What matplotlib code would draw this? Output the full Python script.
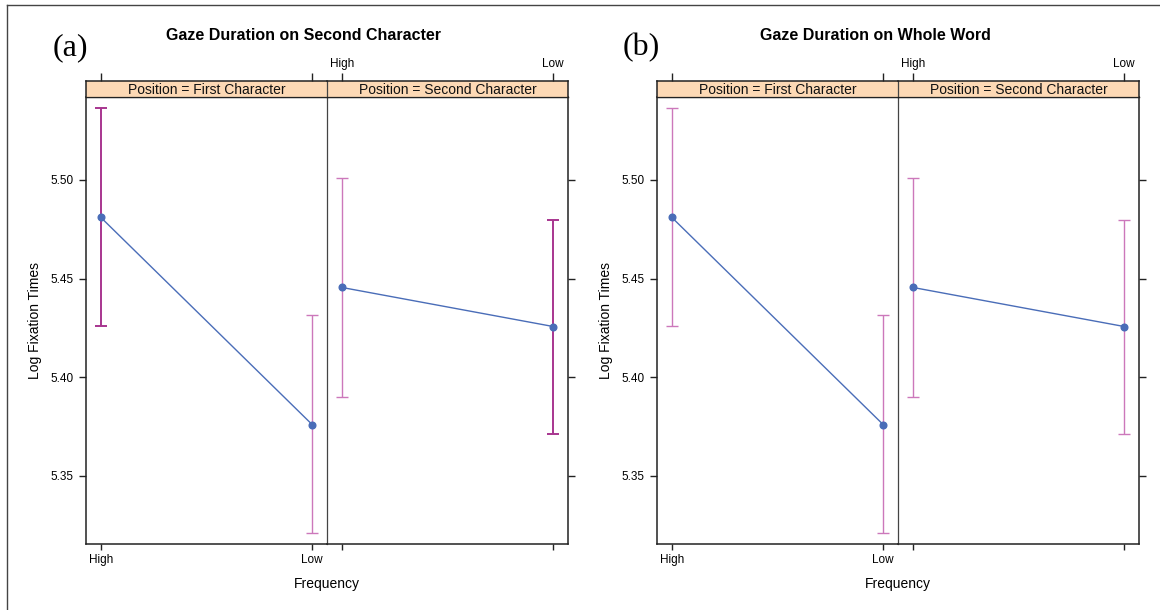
import matplotlib
matplotlib.use("Agg")
import matplotlib.pyplot as plt
from matplotlib.lines import Line2D

# ---------------- data ----------------
frequency = ["High", "Low"]
positions = ["First Character", "Second Character"]

# (a) Gaze Duration on Second Character
a_first_mean = [5.481, 5.376]
a_first_lo = [5.426, 5.321]
a_first_hi = [5.5365, 5.4315]
a_second_mean = [5.4455, 5.4257]
a_second_lo = [5.390, 5.3712]
a_second_hi = [5.501, 5.4797]

# (b) Gaze Duration on Whole Word
b_first_mean = [5.481, 5.376]
b_first_lo = [5.426, 5.321]
b_first_hi = [5.5365, 5.4315]
b_second_mean = [5.4455, 5.4257]
b_second_lo = [5.390, 5.3712]
b_second_hi = [5.501, 5.4797]

yticks = [5.35, 5.40, 5.45, 5.50]
ytick_labels = ["5.35", "5.40", "5.45", "5.50"]

# ---------------- style ----------------
plt.rcParams["font.family"] = ["Liberation Sans", "DejaVu Sans"]
W, H = 1160, 610
fig = plt.figure(figsize=(W / 100, H / 100), dpi=100)

LINE = "#4a6db8"
ERR_DARK = "#a8358f"
ERR_LIGHT = "#cc78bb"
STRIP = "#fdd9b5"
FRAME = "#222222"
DIV = "#444444"


def ax_px(x0, y0, x1, y1):
    return fig.add_axes([x0 / W, 1 - y1 / H, (x1 - x0) / W, (y1 - y0) / H])


def fx(x):
    return x / W


def fy(y):
    return 1 - y / H


xs = [1, 2]
XLIM = (0.93, 2.07)
YLIM = (5.3155, 5.542)


def draw_group(dx, title, tag, data, dark_flags):
    p1 = ax_px(86 + dx, 97, 327 + dx, 544)
    p2 = ax_px(327 + dx, 97, 568 + dx, 544)
    s1 = ax_px(86 + dx, 81, 327 + dx, 97)
    s2 = ax_px(327 + dx, 81, 568 + dx, 97)

    for i, (ax, (m, lo, hi)) in enumerate(zip([p1, p2], data)):
        for j in range(2):
            col = ERR_DARK if dark_flags[i][j] else ERR_LIGHT
            lw = 1.4 if dark_flags[i][j] else 1.0
            ax.errorbar([xs[j]], [m[j]], yerr=[[m[j] - lo[j]], [hi[j] - m[j]]],
                        fmt="none", ecolor=col, elinewidth=lw, capsize=4.3,
                        capthick=lw, zorder=2)
        ax.plot(xs, m, color=LINE, lw=1.0, marker="o", markersize=4.8,
                markerfacecolor=LINE, markeredgecolor=LINE, zorder=3)
        ax.set_xlim(*XLIM)
        ax.set_ylim(*YLIM)
        ax.set_xticks(xs)
        ax.set_yticks(yticks)
        ax.patch.set_alpha(0)
        for sp in ax.spines.values():
            sp.set_color(FRAME)
            sp.set_linewidth(1.1)

    # panel 1 : left + bottom labels
    p1.set_xticklabels(frequency, fontsize=8.5)
    p1.set_yticklabels(ytick_labels, fontsize=8.5)
    p1.tick_params(axis="both", direction="out", length=4.5, width=1.0,
                   color=FRAME, pad=3)
    p1.tick_params(axis="y", length=5.0, pad=4)
    p1.spines["right"].set_visible(False)
    p1.spines["top"].set_linewidth(0.9)
    p1.set_ylabel("Log Fixation Times", fontsize=10, labelpad=6)

    # panel 2 : bottom ticks (no labels), right ticks (no labels)
    p2.spines["left"].set_color(DIV)
    p2.spines["left"].set_linewidth(0.9)
    p2.spines["top"].set_linewidth(0.9)
    p2.tick_params(axis="x", direction="out", length=4.5, width=1.0,
                   color=FRAME, labelbottom=False)
    p2.tick_params(axis="y", direction="out", length=5.0, width=1.0,
                   color=FRAME, left=False, labelleft=False,
                   right=True, labelright=False)

    # strips
    for k, (s, pos) in enumerate(zip([s1, s2], positions)):
        s.set_facecolor(STRIP)
        s.set_xlim(*XLIM)
        s.set_ylim(0, 1)
        s.set_yticks([])
        s.set_xticks(xs)
        s.tick_params(axis="x", bottom=False, labelbottom=False, top=True,
                      direction="out", length=5.8, width=1.0, color=FRAME,
                      labeltop=(k == 1), labelsize=8.5, pad=2)
        if k == 1:
            s.set_xticklabels(frequency)
        for sp in s.spines.values():
            sp.set_color(FRAME)
            sp.set_linewidth(1.1)
        s.spines["bottom"].set_linewidth(0.9)
        s.text(0.5, 0.46, "Position = " + pos, transform=s.transAxes,
               ha="center", va="center", fontsize=10, color="#111111")
    s1.spines["right"].set_visible(False)
    s2.spines["left"].set_color(DIV)
    s2.spines["left"].set_linewidth(0.9)
    s1.set_zorder(1)
    s2.set_zorder(2)

    fig.text(fx(304 + dx), fy(35), title, ha="center", va="center",
             fontsize=11.5, fontweight="bold")
    fig.text(fx(327 + dx), fy(584), "Frequency", ha="center", va="center",
             fontsize=10)
    fig.text(fx(70 + dx), fy(48), tag, ha="center", va="center",
             fontsize=23, family=["Liberation Serif", "DejaVu Serif"])


draw_group(0, "Gaze Duration on Second Character", "(a)",
           [(a_first_mean, a_first_lo, a_first_hi),
            (a_second_mean, a_second_lo, a_second_hi)],
           [[True, False], [False, True]])
draw_group(571, "Gaze Duration on Whole Word", "(b)",
           [(b_first_mean, b_first_lo, b_first_hi),
            (b_second_mean, b_second_lo, b_second_hi)],
           [[False, False], [False, False]])

# outer frame (top and left edges)
fig.add_artist(Line2D([fx(7), fx(1160)], [fy(5), fy(5)], color="#444444", lw=1.0))
fig.add_artist(Line2D([fx(7), fx(7)], [fy(5), fy(610)], color="#444444", lw=1.0))

fig.savefig("out.png", dpi=100)
